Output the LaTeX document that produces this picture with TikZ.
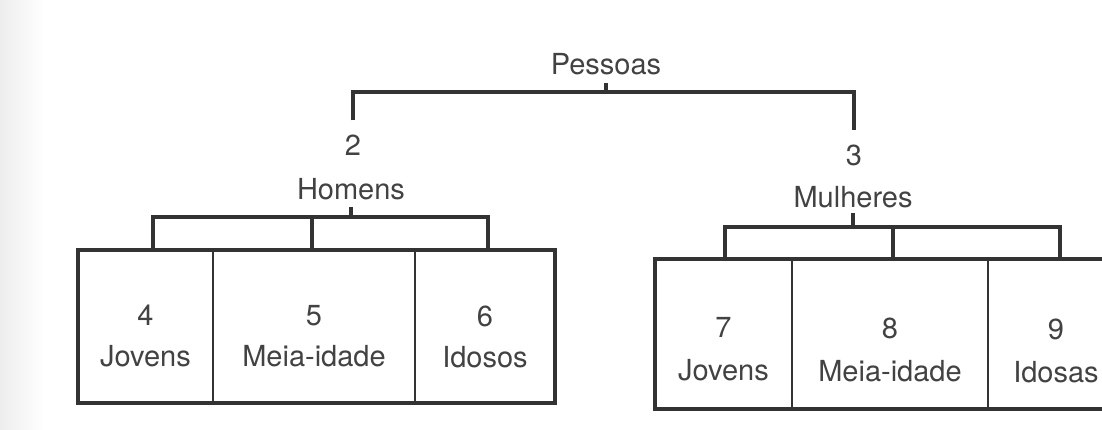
\documentclass[tikz,border=0pt]{standalone}
\usepackage{fontspec}
\setmainfont{TeX Gyre Heros}
\definecolor{ink}{HTML}{333333}
\definecolor{txt}{HTML}{424242}
\tikzset{
  lbl/.style={anchor=base, inner sep=0pt, outer sep=0pt, text=txt, font=\fontsize{29}{34}\selectfont},
  br/.style={draw=ink, line width=3.6pt, line cap=butt, line join=miter},
  cell/.style={draw=ink, line width=2.4pt, rectangle, inner sep=0pt, outer sep=0pt},
  outerbox/.style={draw=ink, line width=4.4pt, line join=miter}
}
\begin{document}
\begin{tikzpicture}[x=1pt, y=-1pt]
\useasboundingbox (0,0) rectangle (1102,430);
\clip (0,0) rectangle (1102,430);
\fill[white] (0,0) rectangle (1102,430);
\shade[left color=black!7, right color=white] (0,0) rectangle (45,430);

% top level
\node[lbl] (pess) at (606,75) {Pessoas};
\node[lbl] (n2) at (353,156) {2};
\node[lbl] (hom) at (351,200) {Homens};
\node[lbl] (n3) at (854,166) {3};
\node[lbl] (mul) at (853,208) {Mulheres};

\coordinate (ptb) at (606,92);
\draw[br] ([yshift=15pt]n2.north) |- (ptb) -| ([yshift=15pt]n3.north);
\draw[br] (ptb) -- ([yshift=-8pt]pess.south);

% men cells
\node[cell, minimum width=135pt, minimum height=153pt] (c4) at (145.5,326.5) {};
\node[cell, minimum width=202pt, minimum height=153pt] (c5) at (314,326.5) {};
\node[cell, minimum width=140pt, minimum height=153pt] (c6) at (485,326.5) {};
\draw[outerbox] (c4.north west) rectangle (c6.south east);

\node[lbl] (n4) at (c4.center |- 0,325) {4};
\node[lbl] (l4) at (c4.center |- 0,366) {Jovens};
\node[lbl] (n5) at (c5.center |- 0,325) {5};
\node[lbl] (l5) at (c5.center |- 0,366) {Meia-idade};
\node[lbl] (n6) at (c6.center |- 0,326) {6};
\node[lbl] (l6) at (c6.center |- 0,367) {Idosos};

\coordinate (hl) at (153,217);
\coordinate (hm) at (312,217);
\coordinate (hr) at (488,217);
\draw[br] (hl |- c4.north) -- (hl) -- (hr) -- (hr |- c6.north);
\draw[br] (hm) -- (hm |- c5.north);
\draw[br] (hom.center |- hl) -- ([yshift=-7pt]hom.south);

% women cells
\node[cell, minimum width=137pt, minimum height=150pt] (c7) at (723.5,334) {};
\node[cell, minimum width=196pt, minimum height=150pt] (c8) at (890,334) {};
\node[cell, minimum width=136pt, minimum height=150pt] (c9) at (1056,334) {};
\draw[outerbox] (c7.north west) rectangle (c9.south east);

\node[lbl] (n7) at (c7.center |- 0,337) {7};
\node[lbl] (l7) at (c7.center |- 0,380) {Jovens};
\node[lbl] (n8) at (c8.center |- 0,338) {8};
\node[lbl] (l8) at (c8.center |- 0,381) {Meia-idade};
\node[lbl] (n9) at (c9.center |- 0,339) {9};
\node[lbl] (l9) at (c9.center |- 0,382) {Idosas};

\coordinate (ml) at (725,227);
\coordinate (mm) at (893,227);
\coordinate (mr) at (1060,227);
\draw[br] (ml |- c7.north) -- (ml) -- (mr) -- (mr |- c9.north);
\draw[br] (mm) -- (mm |- c8.north);
\draw[br] (mul.center |- ml) -- ([yshift=-5pt]mul.south);
\end{tikzpicture}
\end{document}
